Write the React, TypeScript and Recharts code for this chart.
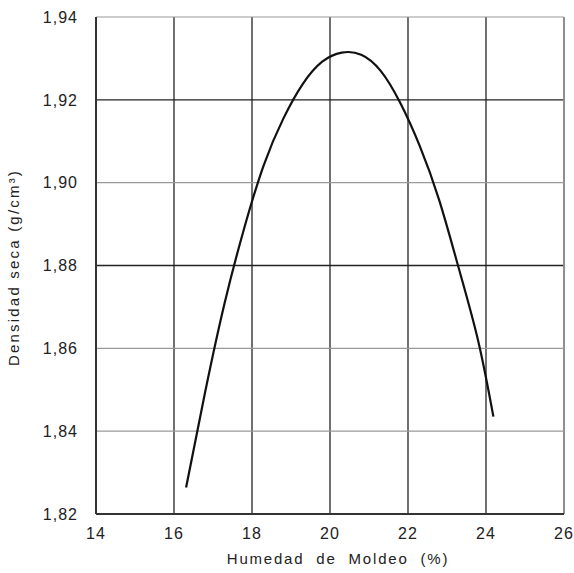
import { LineChart, Line, XAxis, YAxis, CartesianGrid, ReferenceLine } from 'recharts'

// humedad de moldeo (%) vs densidad seca (g/cm3)
const humedad = [16.31, 16.8, 17.3, 17.8, 18.3, 18.8, 19.3, 19.8, 20.3, 20.8, 21.3, 21.8, 22.3, 22.8, 23.3, 23.8, 24.19]
const densidad = [1.8264, 1.8495, 1.871, 1.889, 1.9042, 1.9154, 1.9238, 1.9292, 1.9314, 1.9309, 1.927, 1.9193, 1.9089, 1.8958, 1.8794, 1.8618, 1.8435]

const xTicks = [14, 16, 18, 20, 22, 24, 26]
const yTicks = [1.82, 1.84, 1.86, 1.88, 1.9, 1.92, 1.94]
// líneas horizontales más oscuras
const darkY = [1.88, 1.92]

const data = humedad.map((h, i) => ({ h, d: densidad[i] }))

const fmtY = (v: number) => v.toFixed(2).replace('.', ',')
const font = 'Liberation Sans, Arial, sans-serif'
const tickStyle = { fontSize: 16, fill: '#222', fontFamily: font, letterSpacing: 1 }

export default function App() {
  return (
    <div style={{ position: 'absolute', left: 0, top: 0, background: '#fff' }}>
      <LineChart width={574} height={573} data={data} margin={{ top: 17, right: 10, left: 0, bottom: 0 }}>
        <CartesianGrid horizontal={false} stroke="#111" strokeWidth={1.2} />
        {yTicks.slice(1).map(t => (
          <ReferenceLine
            key={t}
            y={t}
            stroke={darkY.includes(t) ? '#222' : '#999'}
            strokeWidth={darkY.includes(t) ? 1.4 : 1.2}
          />
        ))}
        <ReferenceLine x={26} stroke="#999" strokeWidth={1.6} />
        <XAxis
          type="number"
          dataKey="h"
          domain={[14, 26]}
          ticks={xTicks}
          height={59}
          tickLine={false}
          tickSize={6}
          tickMargin={8}
          stroke="#333"
          strokeWidth={2}
          tick={tickStyle}
          label={{
            value: 'Humedad\u00a0\u00a0de\u00a0\u00a0Moldeo\u00a0\u00a0(%)',
            position: 'insideBottom',
            offset: 9,
            dx: 8,
            fill: '#222',
            style: { fontSize: 15, fill: '#222', fontFamily: font, letterSpacing: 1.8 },
          }}
        />
        <YAxis
          type="number"
          domain={[1.82, 1.94]}
          ticks={yTicks}
          width={96}
          tickFormatter={fmtY}
          tickLine={false}
          tickSize={6}
          tickMargin={12}
          stroke="#333"
          strokeWidth={2}
          tick={tickStyle}
          label={{
            value: 'Densidad seca (g/cm³)',
            angle: -90,
            position: 'insideLeft',
            offset: 14,
            dy: 2,
            fill: '#222',
            style: { fontSize: 15, fill: '#222', fontFamily: font, letterSpacing: 2.2, textAnchor: 'middle' },
          }}
        />
        <Line
          type="natural"
          dataKey="d"
          stroke="#111"
          strokeWidth={2.2}
          dot={false}
          isAnimationActive={false}
        />
      </LineChart>
    </div>
  )
}
